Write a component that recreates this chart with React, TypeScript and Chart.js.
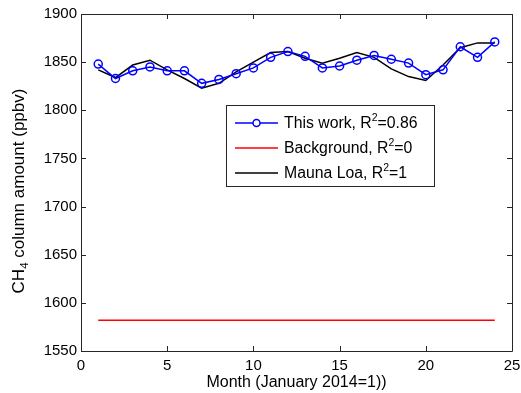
import React, { useEffect, useRef } from "react";
import { Chart, registerables } from "chart.js";

Chart.register(...registerables);

const months = [1, 2, 3, 4, 5, 6, 7, 8, 9, 10, 11, 12, 13, 14, 15, 16, 17, 18, 19, 20, 21, 22, 23, 24];
const thisWork = [1848, 1833, 1841, 1845, 1841, 1841, 1828, 1832, 1838, 1844, 1855, 1861, 1856, 1844, 1846, 1852, 1857, 1853, 1849, 1837, 1842, 1866, 1855, 1871];
const maunaLoa = [1842, 1834, 1847, 1852, 1842, 1833, 1823, 1828, 1840, 1850, 1860, 1861, 1854, 1849, 1854, 1860, 1855, 1843, 1835, 1831, 1847, 1865, 1870, 1870];
const background = [1582, 1582, 1582, 1582, 1582, 1582, 1582, 1582, 1582, 1582, 1582, 1582, 1582, 1582, 1582, 1582, 1582, 1582, 1582, 1582, 1582, 1582, 1582, 1582];
const legendLabels = [
  { pre: "This work, R", sup: "2", post: "=0.86", color: "#0000ff", marker: true },
  { pre: "Background, R", sup: "2", post: "=0", color: "#ff0000", marker: false },
  { pre: "Mauna Loa, R", sup: "2", post: "=1", color: "#000000", marker: false },
];
const xTitle = "Month (January 2014=1))";
const yTitleMain = "CH";
const yTitleSub = "4";
const yTitleRest = " column amount (ppbv)";

const FONT = "'Liberation Sans', Arial, Helvetica, sans-serif";

const framePlugin = {
  id: "frame",
  afterDraw(chart: any) {
    const ctx = chart.ctx;
    const { left, right, top, bottom } = chart.chartArea;
    const xs = chart.scales.x;
    const ys = chart.scales.y;
    ctx.save();
    ctx.strokeStyle = "#262626";
    ctx.lineWidth = 1;
    ctx.beginPath();
    ctx.rect(Math.round(left) + 0.5, Math.round(top) + 0.5, Math.round(right - left), Math.round(bottom - top));
    ctx.stroke();
    const tl = 5;
    ctx.beginPath();
    xs.ticks.forEach((t: any) => {
      const px = Math.round(xs.getPixelForValue(t.value)) + 0.5;
      ctx.moveTo(px, bottom);
      ctx.lineTo(px, bottom - tl);
      ctx.moveTo(px, top);
      ctx.lineTo(px, top + tl);
    });
    ys.ticks.forEach((t: any) => {
      const py = Math.round(ys.getPixelForValue(t.value)) + 0.5;
      ctx.moveTo(left, py);
      ctx.lineTo(left + tl, py);
      ctx.moveTo(right, py);
      ctx.lineTo(right - tl, py);
    });
    ctx.stroke();

    // axis titles
    ctx.fillStyle = "#000";
    ctx.font = `16px ${FONT}`;
    ctx.textAlign = "center";
    ctx.textBaseline = "middle";
    ctx.fillText(xTitle, (left + right) / 2, 383);

    ctx.save();
    ctx.translate(19, 191);
    ctx.rotate(-Math.PI / 2);
    ctx.textBaseline = "middle";
    ctx.textAlign = "left";
    const f1 = `17px ${FONT}`;
    const f2 = `11.5px ${FONT}`;
    ctx.font = f1;
    const w1 = ctx.measureText(yTitleMain).width;
    const w3 = ctx.measureText(yTitleRest).width;
    ctx.font = f2;
    const w2 = ctx.measureText(yTitleSub).width;
    const total = w1 + w2 + w3;
    let x0 = -total / 2;
    ctx.font = f1;
    ctx.fillText(yTitleMain, x0, 0);
    x0 += w1;
    ctx.font = f2;
    ctx.fillText(yTitleSub, x0, 6);
    x0 += w2;
    ctx.font = f1;
    ctx.fillText(yTitleRest, x0, 0);
    ctx.restore();

    // legend
    const lf1 = `15.8px ${FONT}`;
    const lf2 = `10.5px ${FONT}`;
    const bx = 226.5, by = 105.5, bw = 208, bh = 81;
    ctx.fillStyle = "#fff";
    ctx.fillRect(bx, by, bw, bh);
    ctx.strokeStyle = "#262626";
    ctx.lineWidth = 1;
    ctx.strokeRect(bx, by, bw, bh);
    legendLabels.forEach((l, i) => {
      const cy = 123 + i * 25;
      ctx.strokeStyle = l.color;
      ctx.lineWidth = 1.5;
      ctx.beginPath();
      ctx.moveTo(235, cy);
      ctx.lineTo(278, cy);
      ctx.stroke();
      if (l.marker) {
        ctx.beginPath();
        ctx.arc(256.5, cy, 3.5, 0, Math.PI * 2);
        ctx.fillStyle = "#fff";
        ctx.fill();
        ctx.stroke();
      }
      ctx.fillStyle = "#000";
      ctx.textAlign = "left";
      ctx.textBaseline = "middle";
      let tx = 284;
      ctx.font = lf1;
      ctx.fillText(l.pre, tx, cy + 1);
      tx += ctx.measureText(l.pre).width;
      ctx.font = lf2;
      ctx.fillText(l.sup, tx, cy - 5);
      tx += ctx.measureText(l.sup).width;
      ctx.font = lf1;
      ctx.fillText(l.post, tx, cy + 1);
    });
    ctx.restore();
  },
};

export default function App() {
  const ref = useRef<HTMLCanvasElement>(null);
  useEffect(() => {
    document.body.style.margin = "0";
    const canvas = ref.current!;
    const chart = new Chart(canvas, {
      type: "line",
      data: {
        datasets: [
          {
            label: "This work",
            data: months.map((m, i) => ({ x: m, y: thisWork[i] })),
            borderColor: "#0000ff",
            backgroundColor: "rgba(255,255,255,0)",
            borderWidth: 1.5,
            pointRadius: 4,
            pointBorderWidth: 1.5,
            pointBorderColor: "#0000ff",
            pointBackgroundColor: "rgba(255,255,255,0)",
            tension: 0,
          },
          {
            label: "Background",
            data: months.map((m, i) => ({ x: m, y: background[i] })),
            borderColor: "#ff0000",
            borderWidth: 1.5,
            pointRadius: 0,
            tension: 0,
          },
          {
            label: "Mauna Loa",
            data: months.map((m, i) => ({ x: m, y: maunaLoa[i] })),
            borderColor: "#000000",
            borderWidth: 1.5,
            pointRadius: 0,
            tension: 0,
          },
        ],
      },
      options: {
        animation: false,
        responsive: false,
        layout: { padding: { top: 14, right: 9, left: 0, bottom: 0 } },
        plugins: { legend: { display: false }, tooltip: { enabled: false } },
        scales: {
          x: {
            type: "linear",
            min: 0,
            max: 25,
            grid: { display: false, drawTicks: false },
            border: { display: false },
            ticks: { stepSize: 5, padding: 6, color: "#000", font: { family: FONT, size: 15 }, maxRotation: 0, callback: (v: any) => String(v) },
            afterFit: (s: any) => { s.height = 42; s.paddingLeft = 0; s.paddingRight = 0; },
          },
          y: {
            min: 1550,
            max: 1900,
            grid: { display: false, drawTicks: false },
            border: { display: false },
            ticks: { stepSize: 50, padding: 4, color: "#000", font: { family: FONT, size: 15 }, callback: (v: any) => String(v) },
            afterFit: (s: any) => { s.width = 81; s.paddingTop = 0; s.paddingBottom = 0; },
          },
        },
      },
      plugins: [framePlugin],
    });
    return () => chart.destroy();
  }, []);
  return <canvas ref={ref} width={521} height={393} style={{ display: "block" }} />;
}
